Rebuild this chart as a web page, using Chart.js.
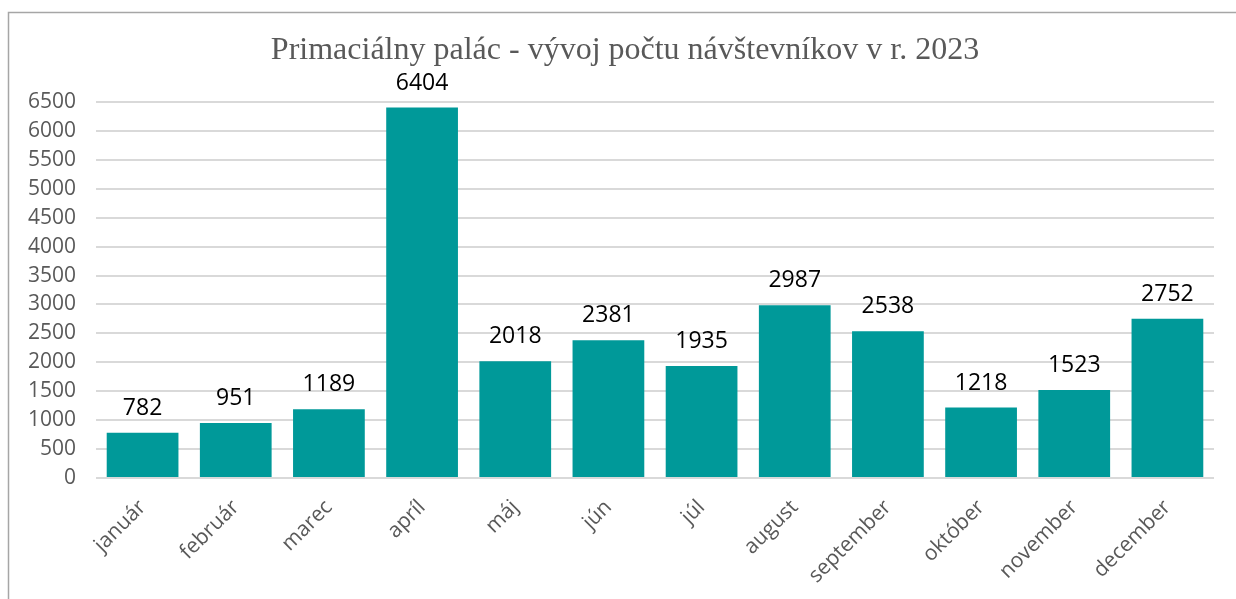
<!DOCTYPE html>
<html>
<head>
<meta charset="utf-8">
<script src="https://cdn.jsdelivr.net/npm/chart.js@4/dist/chart.umd.min.js"></script>
<style>
  html, body { margin: 0; padding: 0; background: #fff; }
  #wrap { position: relative; width: 1236px; height: 599px; }
</style>
</head>
<body>
<div id="wrap"><canvas id="visitors"></canvas></div>
<script>
// data
const months = ["január", "február", "marec", "apríl", "máj", "jún", "júl", "august", "september", "október", "november", "december"];
const visitors = [782, 951, 1189, 6404, 2018, 2381, 1935, 2987, 2538, 1218, 1523, 2752];
const chartTitle = "Primaciálny palác - vývoj počtu návštevníkov v r. 2023";

// thin grey frame and the title, drawn by hand so the title sits where excel put it
const framePlugin = {
    id: "frame",
    beforeDraw(chart) {
        const ctx = chart.ctx;
        ctx.save();
        ctx.strokeStyle = "#a6a6a6";
        ctx.lineWidth = 1.5;
        ctx.beginPath();
        ctx.moveTo(8.5, chart.height);
        ctx.lineTo(8.5, 12.5);
        ctx.lineTo(chart.width, 12.5);
        ctx.stroke();

        ctx.font = "32px 'Liberation Serif', 'Times New Roman', serif";
        ctx.fillStyle = "#595959";
        ctx.textAlign = "center";
        ctx.textBaseline = "middle";
        ctx.fillText(chartTitle, 625, 51);
        ctx.restore();
    }
};

// value labels above each bar
const valueLabels = {
    id: "valueLabels",
    afterDatasetsDraw(chart) {
        const ctx = chart.ctx;
        const meta = chart.getDatasetMeta(0);
        ctx.save();
        ctx.font = "23px 'Open Sans'";
        ctx.fillStyle = "#000";
        ctx.textAlign = "center";
        ctx.textBaseline = "alphabetic";
        meta.data.forEach((bar, i) => {
            ctx.fillText(String(visitors[i]), bar.x, bar.y - 18);
        });
        ctx.restore();
    }
};

new Chart("visitors", {
    type: "bar",
    data: {
        labels: months,
        datasets: [{
            data: visitors,
            backgroundColor: "#009999",
            borderWidth: 0,
            categoryPercentage: 1,
            barPercentage: 0.77
        }]
    },
    options: {
        responsive: true,
        maintainAspectRatio: false,
        animation: false,
        layout: { padding: { left: 10, right: 22, top: 102, bottom: 0 } },
        plugins: {
            legend: { display: false },
            tooltip: { enabled: false },
            title: { display: false }
        },
        scales: {
            x: {
                grid: { display: false, drawTicks: false },
                border: { display: false },
                ticks: {
                    color: "#595959",
                    font: { family: "'Open Sans'", size: 21 },
                    minRotation: 45,
                    maxRotation: 45,
                    padding: 17
                },
                afterFit(scale) { scale.height = 121; }
            },
            y: {
                min: 0,
                max: 6500,
                ticks: {
                    stepSize: 500,
                    color: "#595959",
                    font: { family: "'Open Sans'", size: 21 },
                    padding: 20,
                    callback: (v) => String(v)
                },
                grid: { color: "#d9d9d9", lineWidth: 2, drawTicks: false },
                border: { display: false },
                afterFit(scale) { scale.width = 86; }
            }
        }
    },
    plugins: [framePlugin, valueLabels]
});
</script>
</body>
</html>
